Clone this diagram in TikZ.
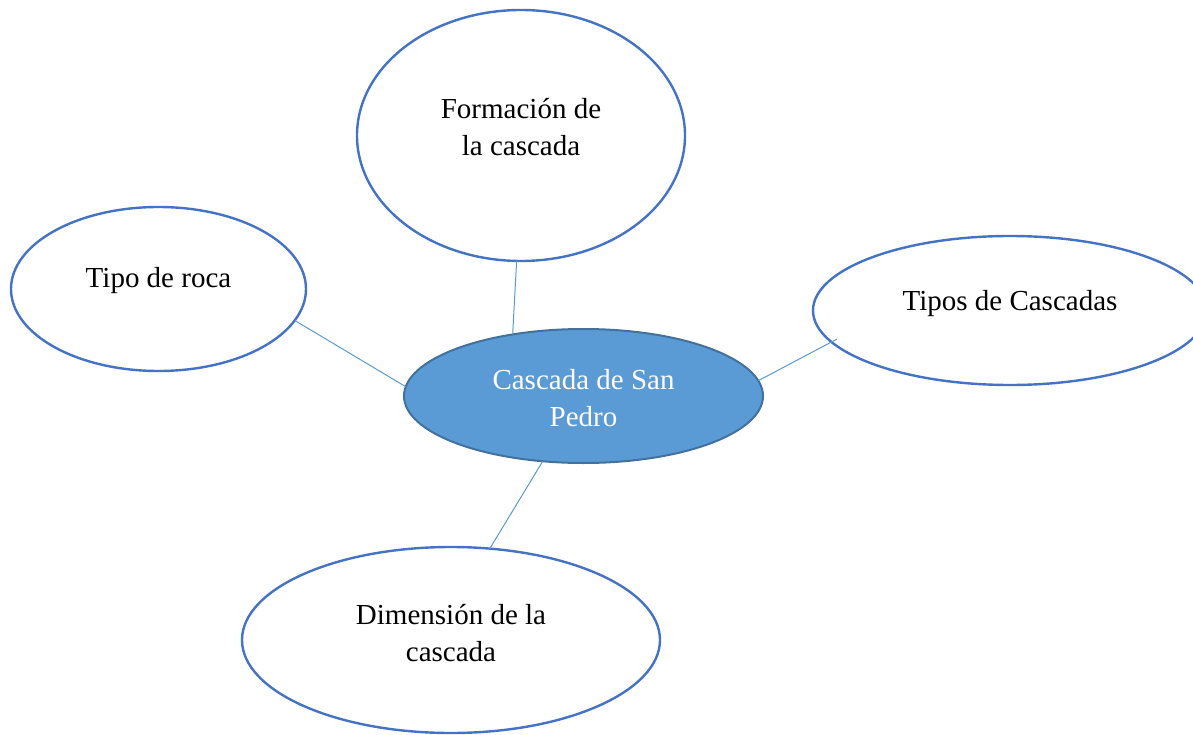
\documentclass[tikz,border=0pt]{standalone}
\usepackage{fontspec}
\setmainfont{Liberation Serif}
\usetikzlibrary{shapes.geometric}
\definecolor{outl}{HTML}{4472C4}
\definecolor{cfill}{HTML}{5B9BD5}
\definecolor{cline}{HTML}{41719C}
\definecolor{conn}{HTML}{5B9BD5}
\tikzset{
 bubble/.style={ellipse, draw=outl, line width=2.4pt, fill=white, inner sep=0pt, outer sep=0pt},
 hub/.style={ellipse, draw=cline, line width=2pt, fill=cfill, inner sep=0pt, outer sep=0pt},
 lbl/.style={font=\fontsize{29}{37}\selectfont, align=center, text=black, inner sep=0pt},
 hublbl/.style={lbl, text=white},
 link/.style={draw=conn, line width=1pt}
}
\begin{document}
\begin{tikzpicture}[x=1pt,y=-1pt]
\useasboundingbox (0,0) rectangle (1193,735);
\clip (0,0) rectangle (1193,735);
\node[hub, minimum width=359pt, minimum height=134pt] (hub) at (583.5,396) {};
\node[bubble, minimum width=328pt, minimum height=251pt] (top) at (521,135.5) {};
\node[bubble, minimum width=295pt, minimum height=164pt] (left) at (158.5,289) {};
\node[bubble, minimum width=394pt, minimum height=149pt] (right) at (1010,310.5) {};
\node[bubble, minimum width=418pt, minimum height=186pt] (bottom) at (451,640) {};
\node[hublbl, yshift=-2pt] (hubtext) at (hub.center) {Cascada de San\\Pedro};
\node[lbl, yshift=8pt] (toptext) at (top.center) {Formación de\\la cascada};
\node[lbl, yshift=8pt] (lefttext) at (left.center) {Tipo de roca};
\node[lbl, yshift=7pt] (righttext) at (right.center) {Tipos de Cascadas};
\node[lbl, yshift=7pt] (bottomtext) at (bottom.center) {Dimensión de la\\cascada};
\draw[link] (top.268) -- (hub.139.5);
\draw[link] (left.347.5) -- (hub.177);
\draw[link, shorten >=-6pt] (hub.5.9) -- (right.190.4);
\draw[link] (hub.238.5) -- (bottom.67.9);
\end{tikzpicture}
\end{document}
